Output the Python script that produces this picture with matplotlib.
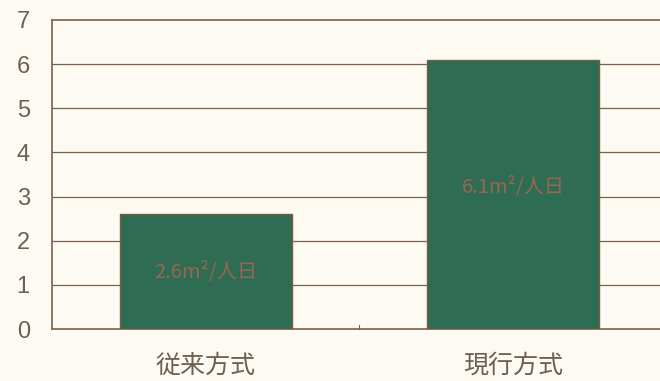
import matplotlib
matplotlib.use("Agg")
import matplotlib.pyplot as plt

categories = ["従来方式", "現行方式"]
values = [2.6, 6.1]
bar_labels = ["2.6m²/人日", "6.1m²/人日"]
yticks = [0, 1, 2, 3, 4, 5, 6, 7]

plt.rcParams['font.family'] = ['Noto Sans CJK JP', 'DejaVu Sans']

bg = "#fcfaf2"
line_c = "#7d6049"
text_c = "#6e5f52"

fig = plt.figure(figsize=(6.6, 3.81), dpi=100, facecolor=bg)
W, H = 660, 381
left, right, top, bottom = 52, 667, 20, 329
ax = fig.add_axes([left / W, (H - bottom) / H, (right - left) / W, (bottom - top) / H])
ax.set_facecolor(bg)

x = list(range(len(categories)))
bars = ax.bar(x, values, width=0.56, color="#2e6c53", edgecolor="#7a5a40",
              linewidth=1.0, zorder=3)

ax.set_xlim(-0.5, 1.5)
ax.set_ylim(0, 7)
ax.set_yticks(yticks)
ax.set_yticklabels([str(t) for t in yticks], fontsize=17, color=text_c,
                   family=['Liberation Sans'])
ax.tick_params(axis='y', length=0, pad=16)

ax.set_xticks(x)
ax.set_xticklabels(categories, fontsize=18, color=text_c)
ax.tick_params(axis='x', length=0, pad=17)
# small middle tick
ax.plot([0.5, 0.5], [0, 0.1], color=line_c, lw=0.8, zorder=4, clip_on=False)

for t in yticks[1:-1]:
    ax.axhline(t, color=line_c, lw=0.9, zorder=1)

for s in ['right']:
    ax.spines[s].set_visible(False)
for s in ['left', 'bottom', 'top']:
    ax.spines[s].set_color(line_c)
    ax.spines[s].set_linewidth(1.2)

ylab = [values[0] * 0.495, values[1] * 0.525]
for xi, yi, lab in zip(x, ylab, bar_labels):
    ax.text(xi, yi, lab, ha='center', va='center', fontsize=14.5,
            color="#9a6650", zorder=5)

fig.savefig("out.png", dpi=100, facecolor=bg)
